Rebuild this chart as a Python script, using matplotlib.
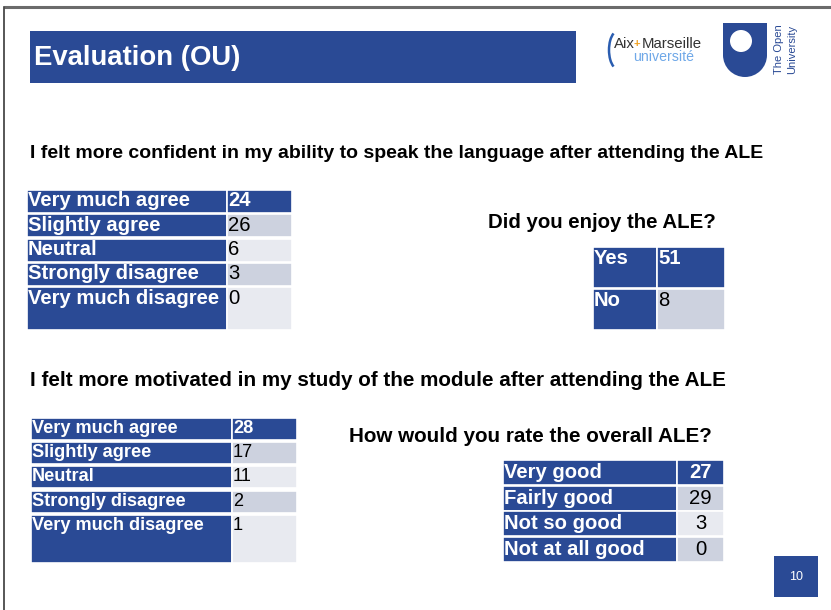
import matplotlib.pyplot as plt
from matplotlib.patches import Rectangle, Circle, Arc

plt.rcParams['font.family'] = ['Liberation Sans', 'DejaVu Sans']

# slide texts
title = 'Evaluation (OU)'
q_confident = 'I felt more confident in my ability to speak the language after attending the ALE'
q_motivated = 'I felt more motivated in my study of the module after attending the ALE'
q_enjoy = 'Did you enjoy the ALE?'
q_rate = 'How would you rate the overall ALE?'
page_no = '10'

# survey answers
agree_labels = ['Very much agree', 'Slightly agree', 'Neutral', 'Strongly disagree', 'Very much disagree']
confident_counts = [24, 26, 6, 3, 0]
motivated_counts = [28, 17, 11, 2, 1]
enjoy_labels = ['Yes', 'No']
enjoy_counts = [51, 8]
rate_labels = ['Very good', 'Fairly good', 'Not so good', 'Not at all good']
rate_counts = [27, 29, 3, 0]

BLUE = '#2A4A95'
GRAY1 = '#CDD2DF'
GRAY2 = '#E8EAF0'

fig = plt.figure(figsize=(8.31, 6.10), dpi=100)
ax = fig.add_axes([0, 0, 1, 1])
ax.set_xlim(0, 831)
ax.set_ylim(610, 0)
ax.axis('off')

# slide frame
ax.plot([4, 831], [7, 7], color='#6b6b6b', lw=2.2, solid_capstyle='butt')
ax.plot([4, 4], [7, 610], color='#3a3a3a', lw=1.2)


def draw_table(x0, w_lab, w_val, tops, heights, labels, values, fs, val_align='left',
               text_dy=11):
    for i, (lab, val) in enumerate(zip(labels, values)):
        t, h = tops[i], heights[i]
        ax.add_patch(Rectangle((x0, t), w_lab, h, facecolor=BLUE, edgecolor='white', lw=1.2))
        if i == 0:
            vcol, tcol, wt = BLUE, 'white', 'bold'
        else:
            vcol = GRAY1 if i % 2 == 1 else GRAY2
            tcol, wt = 'black', 'normal'
        ax.add_patch(Rectangle((x0 + w_lab, t), w_val, h, facecolor=vcol, edgecolor='white', lw=1.2))
        ax.text(x0 + 1, t + text_dy, lab, color='white', fontsize=fs, fontweight='bold',
                va='center', ha='left')
        if val_align == 'center':
            ax.text(x0 + w_lab + w_val / 2, t + text_dy, str(val), color=tcol, fontsize=fs,
                    fontweight=wt, va='center', ha='center')
        else:
            ax.text(x0 + w_lab + 1, t + text_dy, str(val), color=tcol, fontsize=fs,
                    fontweight=wt, va='center', ha='left')


# title bar
ax.add_patch(Rectangle((30, 31), 546, 52, facecolor=BLUE, edgecolor='none'))
ax.text(34, 58, title, color='white', fontsize=19.8, fontweight='bold', va='center', ha='left')

# Aix-Marseille logo
ax.add_patch(Arc((618, 50), 18, 38, theta1=105, theta2=255, color='#2a5db0', lw=1.8))
ax.text(614, 44, 'Aix', color='#333333', fontsize=10.8, va='center', ha='left')
ax.text(634, 44, '+', color='#f0a020', fontsize=8, va='center', ha='left', fontweight='bold')
ax.text(642, 44, 'Marseille', color='#333333', fontsize=10.8, va='center', ha='left')
ax.text(633, 57, 'université', color='#6fa8e8', fontsize=10.2, va='center', ha='left')

# Open University logo
ax.add_patch(Rectangle((723, 23), 44, 33, facecolor=BLUE, edgecolor='none'))
ax.add_patch(Circle((745, 55), 22, facecolor=BLUE, edgecolor='none'))
ax.add_patch(Circle((741, 41), 11, facecolor='white', edgecolor='none'))
ax.text(779, 49, 'The Open', color=BLUE, fontsize=8, rotation=90, va='center', ha='center')
ax.text(792, 49, 'University', color=BLUE, fontsize=8, rotation=90, va='center', ha='center')

# question 1
ax.text(30, 154, q_confident, fontsize=14, fontweight='bold', va='center', ha='left')
draw_table(27, 200, 65, [190, 214.3, 238.6, 262.9, 287.2], [23, 23, 23, 23, 43],
           agree_labels, confident_counts, fs=14.6)

# enjoy
ax.text(488, 222, q_enjoy, fontsize=14.7, fontweight='bold', va='center', ha='left')
draw_table(593, 64, 68, [247, 289], [41, 41], enjoy_labels, enjoy_counts, fs=14.6, text_dy=12)

# question 2
ax.text(30, 380, q_motivated, fontsize=14.85, fontweight='bold', va='center', ha='left')
draw_table(31, 201, 65, [418, 442.2, 466.4, 490.6, 514.8], [22, 22, 22, 22, 48.5],
           agree_labels, motivated_counts, fs=13.1, text_dy=10.5)

# rating
ax.text(349, 436, q_rate, fontsize=14.85, fontweight='bold', va='center', ha='left')
draw_table(503, 174, 47, [460, 485.7, 511.4, 537.1], [25, 25, 25, 25],
           rate_labels, rate_counts, fs=14.6, val_align='center', text_dy=12.5)

# page number
ax.add_patch(Rectangle((774, 556), 44, 41, facecolor=BLUE, edgecolor='none'))
ax.text(796, 577, page_no, color='white', fontsize=9, va='center', ha='center')

fig.savefig('out.png', dpi=100)
